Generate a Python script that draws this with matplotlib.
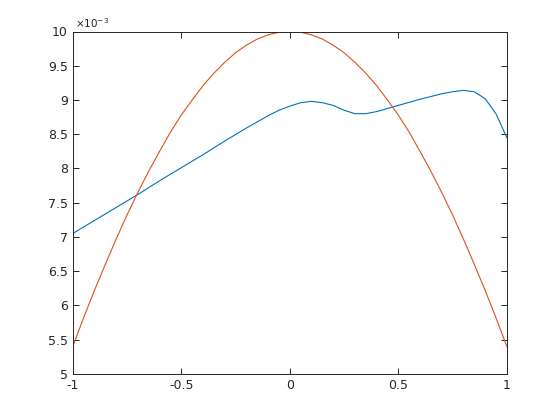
import matplotlib.pyplot as plt
from matplotlib.ticker import FuncFormatter

# values, y in units of 1e-3
x_blue = [-1, -0.9, -0.8, -0.7, -0.6, -0.5, -0.4, -0.3, -0.2, -0.1, -0.05, 0,
          0.05, 0.1, 0.15, 0.2, 0.25, 0.3, 0.35, 0.4, 0.5, 0.6, 0.7, 0.75, 0.8,
          0.85, 0.9, 0.95, 1]
y_blue = [7.05, 7.24, 7.43, 7.62, 7.82, 8.01, 8.20, 8.40, 8.59, 8.77, 8.85, 8.91,
          8.96, 8.98, 8.96, 8.92, 8.85, 8.80, 8.80, 8.83, 8.92, 9.01, 9.09, 9.12, 9.14,
          9.12, 9.02, 8.80, 8.45]

x_red = [-1, -0.95, -0.9, -0.85, -0.8, -0.75, -0.7, -0.65, -0.6, -0.55, -0.5,
         -0.45, -0.4, -0.35, -0.3, -0.25, -0.2, -0.15, -0.1, -0.05, 0,
         0.05, 0.1, 0.15, 0.2, 0.25, 0.3, 0.35, 0.4, 0.45, 0.5,
         0.55, 0.6, 0.65, 0.7, 0.75, 0.8, 0.85, 0.9, 0.95, 1]
y_red = [5.40, 5.82, 6.22, 6.60, 6.97, 7.32, 7.65, 7.96, 8.25, 8.53, 8.78,
         9.00, 9.21, 9.39, 9.55, 9.69, 9.80, 9.89, 9.95, 9.99, 10.0,
         9.99, 9.95, 9.89, 9.80, 9.69, 9.55, 9.39, 9.21, 9.00, 8.78,
         8.53, 8.25, 7.96, 7.65, 7.32, 6.97, 6.60, 6.22, 5.82, 5.40]

x_ticks = [-1, -0.5, 0, 0.5, 1]
y_ticks = [5, 5.5, 6, 6.5, 7, 7.5, 8, 8.5, 9, 9.5, 10]

edge = '#262626'

fig = plt.figure(figsize=(5.6, 4.2), dpi=100)
ax = fig.add_axes([0.13, 0.11, 0.775, 0.815])

ax.plot(x_blue, [v * 1e-3 for v in y_blue], color='#0072BD', lw=0.8)
ax.plot(x_red, [v * 1e-3 for v in y_red], color='#D95319', lw=0.8)

ax.set_xlim(-1, 1)
ax.set_ylim(5e-3, 10e-3)
ax.set_xticks(x_ticks)
ax.set_yticks([v * 1e-3 for v in y_ticks])
ax.xaxis.set_major_formatter(FuncFormatter(lambda v, p: f"{v:g}"))
ax.yaxis.set_major_formatter(FuncFormatter(lambda v, p: f"{round(v * 1e3, 2):g}"))

ax.tick_params(direction='in', length=4, width=0.7, colors=edge, labelsize=9,
               top=True, right=True)
for s in ax.spines.values():
    s.set_linewidth(0.7)
    s.set_color(edge)

ax.text(0.005, 1.005, r'$\times 10^{-3}$', transform=ax.transAxes, ha='left',
        va='bottom', fontsize=7.5, color=edge)

fig.savefig('out.png')
